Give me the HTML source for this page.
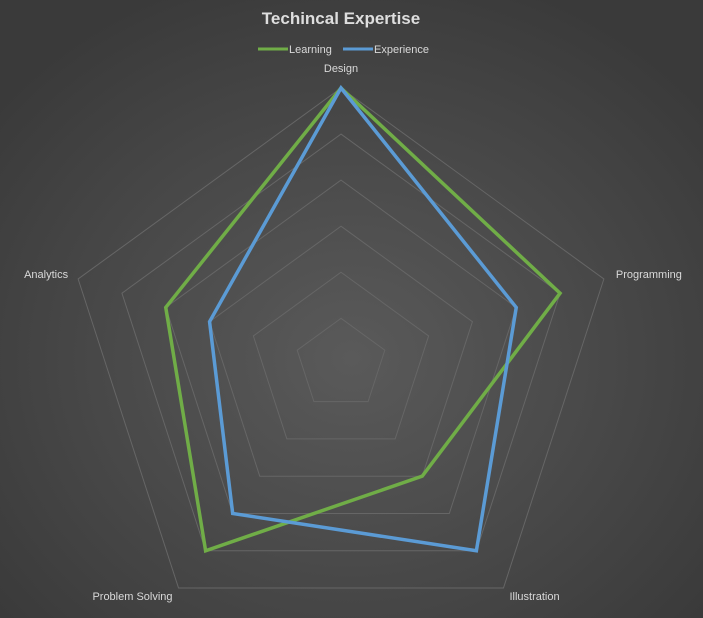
<!DOCTYPE html>
<html><head><meta charset="utf-8"><style>
html,body{margin:0;padding:0;width:703px;height:618px;overflow:hidden;background:#404040}
svg{display:block}
text{font-family:"Liberation Sans",sans-serif}
</style></head><body>
<svg id="chart" width="703" height="618" viewBox="0 0 703 618">
<defs><radialGradient id="bg" cx="50%" cy="58%" r="65%"><stop offset="0" stop-color="#5a5a5a"/><stop offset="1" stop-color="#3a3a3a"/></radialGradient></defs>
<rect width="703" height="618" fill="url(#bg)"/>
<text x="341" y="24" text-anchor="middle" font-size="17" font-weight="bold" fill="#dedede">Techincal Expertise</text>
<g>
<line x1="258" y1="49" x2="288" y2="49" stroke="#70ad47" stroke-width="3"/>
<text x="289" y="53" font-size="11" fill="#d9d9d9">Learning</text>
<line x1="343" y1="49" x2="373" y2="49" stroke="#5b9bd5" stroke-width="3"/>
<text x="374" y="53" font-size="11" fill="#d9d9d9">Experience</text>
</g>
<g id="grid"></g><g id="labels"></g><g id="series"></g>
</svg>
<script>
const categories=["Design","Programming","Illustration","Problem Solving","Analytics"];
const learning=[6,5,3,5,4];
const experience=[6,4,5,4,3];
const maxVal=6;
const ticks=[1,2,3,4,5,6];
const cx=341,cy=364.4,R=276.4;
const NS="http://www.w3.org/2000/svg";
function ang(i){return -Math.PI/2+i*2*Math.PI/categories.length;}
function pt(i,v){const r=R*v/maxVal;return [cx+r*Math.cos(ang(i)),cy+r*Math.sin(ang(i))];}
const grid=document.getElementById('grid');
ticks.forEach(t=>{
  const p=document.createElementNS(NS,'polygon');
  p.setAttribute('points',categories.map((c,i)=>pt(i,t).join(',')).join(' '));
  p.setAttribute('fill','none');p.setAttribute('stroke','#666666');p.setAttribute('stroke-width','1');
  
  
  grid.appendChild(p);
});
const labels=document.getElementById('labels');
const lpos=[[0,-20,'middle'],[12,-5,'start'],[6,8,'start'],[-6,8,'end'],[-10,-5,'end']];
categories.forEach((c,i)=>{
  const [x,y]=pt(i,maxVal);
  const t=document.createElementNS(NS,'text');
  t.setAttribute('x',x+lpos[i][0]);t.setAttribute('y',y+lpos[i][1]+4);
  t.setAttribute('text-anchor',lpos[i][2]);t.setAttribute('font-size','11');t.setAttribute('fill','#d9d9d9');
  t.textContent=c;
  
  
  labels.appendChild(t);
});
const series=document.getElementById('series');
[[learning,'#70ad47','series-learning'],[experience,'#5b9bd5','series-experience']].forEach(([d,col,name])=>{
  const p=document.createElementNS(NS,'polygon');
  p.setAttribute('points',d.map((v,i)=>pt(i,v).join(',')).join(' '));
  p.setAttribute('fill','none');p.setAttribute('stroke',col);p.setAttribute('stroke-width','3.5');
  p.setAttribute('stroke-linejoin','miter');
  
  
  series.appendChild(p);
});
</script>
</body></html>
